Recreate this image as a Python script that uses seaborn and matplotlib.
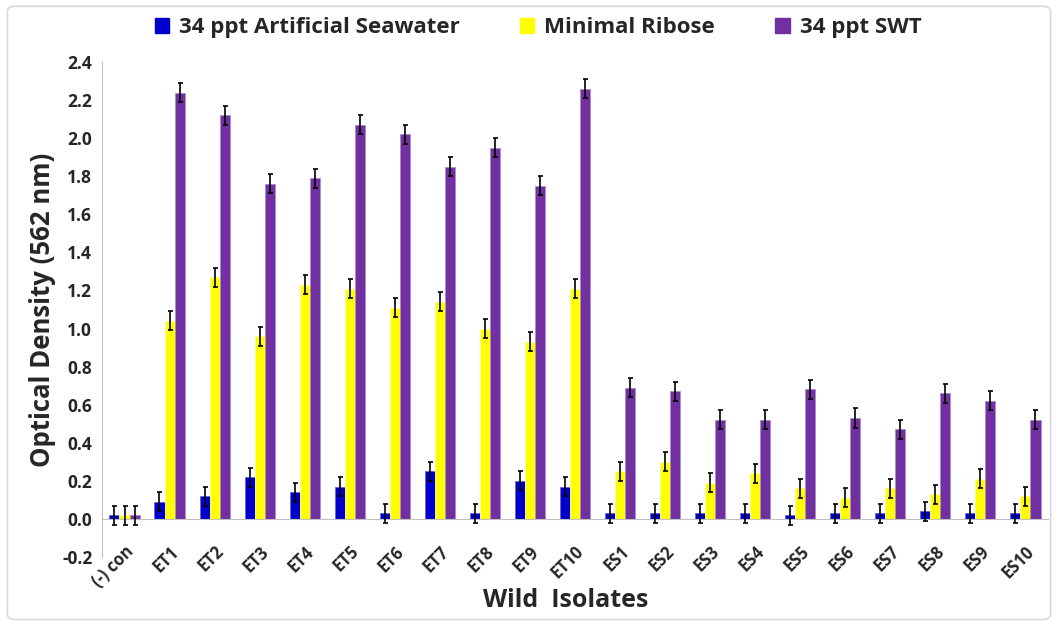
import numpy as np
import pandas as pd
import seaborn as sns
import matplotlib
matplotlib.use("Agg")
import matplotlib.pyplot as plt
from matplotlib.patches import FancyBboxPatch

categories = ["(-) con", "ET1", "ET2", "ET3", "ET4", "ET5", "ET6", "ET7", "ET8", "ET9", "ET10",
              "ES1", "ES2", "ES3", "ES4", "ES5", "ES6", "ES7", "ES8", "ES9", "ES10"]
artificial = [0.02, 0.09, 0.12, 0.22, 0.14, 0.17, 0.03, 0.25, 0.03, 0.20, 0.17,
              0.03, 0.03, 0.03, 0.03, 0.02, 0.03, 0.03, 0.04, 0.03, 0.03]
ribose = [0.02, 1.04, 1.27, 0.96, 1.23, 1.21, 1.11, 1.14, 1.00, 0.93, 1.21,
          0.25, 0.30, 0.19, 0.24, 0.16, 0.11, 0.16, 0.13, 0.21, 0.12]
swt = [0.02, 2.24, 2.12, 1.76, 1.79, 2.07, 2.02, 1.85, 1.95, 1.75, 2.26,
       0.69, 0.67, 0.52, 0.52, 0.68, 0.53, 0.47, 0.66, 0.62, 0.52]
errors = 0.05
series_names = ["34 ppt Artificial Seawater", "Minimal Ribose", "34 ppt SWT"]
colors = ["#0000CC", "#FFFF00", "#7030A0"]
edge_colors = ["#6666DD", "#FFFF99", "#B08CD0"]

sns.set_style("white")
plt.rcParams['font.family'] = ['Open Sans', 'DejaVu Sans']

rows = []
for name, vals in zip(series_names, [artificial, ribose, swt]):
    for c, v in zip(categories, vals):
        rows.append({"Isolate": c, "Series": name, "OD": v})
df = pd.DataFrame(rows)

fig = plt.figure(figsize=(10.58, 6.27), dpi=100)
ax = fig.add_axes([0.0964, 0.1117, 0.8941, 0.7893])

sns.barplot(data=df, x="Isolate", y="OD", hue="Series", order=categories,
            hue_order=series_names, palette=colors, errorbar=None, width=0.67,
            saturation=1, ax=ax, legend=True)

# error bars from bar geometry
for cont, ec in zip(ax.containers, edge_colors):
    xs, ys = [], []
    for p in cont.patches:
        p.set_edgecolor(ec)
        p.set_linewidth(0.6)
        xs.append(p.get_x() + p.get_width() / 2)
        ys.append(p.get_height())
    ax.errorbar(xs, ys, yerr=errors, fmt="none", ecolor="black", elinewidth=1.2,
                capsize=1.8, capthick=1.2, zorder=5)

ax.set_xlim(-0.5, len(categories) - 0.5)
ax.set_ylim(-0.2, 2.4)
ax.set_yticks(np.arange(-0.2, 2.41, 0.2))
ax.set_yticklabels([f"{v:.1f}" for v in np.arange(-0.2, 2.41, 0.2)],
                   fontsize=12.5, fontweight="bold")

ax.spines["top"].set_visible(False)
ax.spines["right"].set_visible(False)
ax.spines["left"].set_color("#BFBFBF")
ax.spines["bottom"].set_color("#BFBFBF")
ax.spines["bottom"].set_position(("data", 0))
ax.tick_params(axis="y", which="major", length=4, color="#BFBFBF", direction="out", pad=3)

ax.set_xticks(range(len(categories)))
ax.set_xticklabels(categories, rotation=45, ha="right", rotation_mode="anchor",
                   fontsize=12, fontweight="bold")
ax.set_xticks(np.arange(-0.5, len(categories), 1.0), minor=True)
ax.tick_params(axis="x", which="major", length=0, pad=17)
ax.tick_params(axis="x", which="minor", length=5, color="#BFBFBF", direction="out")

ax.set_xlabel("Wild  Isolates", fontsize=18, fontweight="bold", va="center")
ax.xaxis.set_label_coords(0.49, -0.087)
ax.set_ylabel("Optical Density (562 nm)", fontsize=18.5, fontweight="bold", labelpad=4)

leg = ax.legend(loc="center", bbox_to_anchor=(0.461, 1.069), ncol=3, frameon=False,
                prop={"family": ["Open Sans", "DejaVu Sans"], "weight": "bold", "size": 16},
                handlelength=0.65, handleheight=0.65, handletextpad=0.45, columnspacing=2.7)
for h, c in zip(leg.legend_handles, colors):
    h.set_edgecolor(c)

frame = FancyBboxPatch((0.007, 0.012), 0.986, 0.978, boxstyle="round,pad=0,rounding_size=0.008",
                       transform=fig.transFigure, facecolor="none", edgecolor="#D9D9D9",
                       linewidth=1.2, zorder=-1)
fig.patches.append(frame)

fig.savefig("out.png", dpi=100)
